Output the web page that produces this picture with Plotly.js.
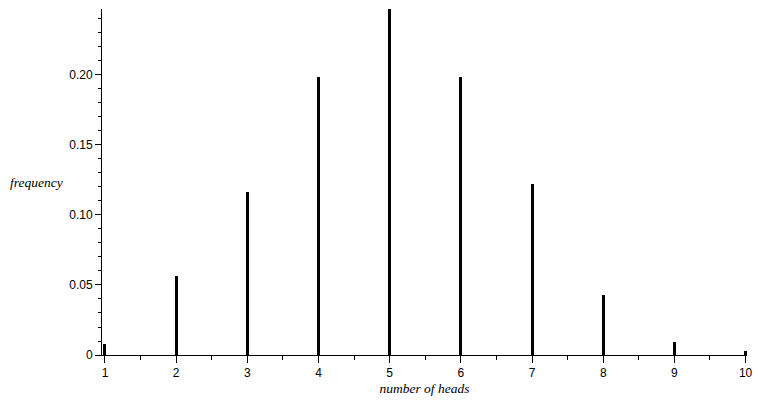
<!DOCTYPE html>
<html>
<head>
<meta charset="utf-8">
<script src="https://cdn.plot.ly/plotly-3.0.1.min.js"></script>
<style>html,body{margin:0;padding:0;background:#fff;}#chart{width:758px;height:400px;}</style>
</head>
<body>
<div id="chart"></div>
<script>
var heads = [1, 2, 3, 4, 5, 6, 7, 8, 9, 10];
var frequency = [0.008, 0.0566, 0.1164, 0.1986, 0.247, 0.1986, 0.1221, 0.0429, 0.0093, 0.0029];
var yTickVals = [0, 0.05, 0.10, 0.15, 0.20];
var yTickText = ['0', '0.05', '0.10', '0.15', '0.20'];
var xTickVals = [1, 2, 3, 4, 5, 6, 7, 8, 9, 10];
var xTickText = ['1', '2', '3', '4', '5', '6', '7', '8', '9', '10'];

var trace = {
  type: 'bar',
  x: heads,
  y: frequency,
  width: 0.042,
  marker: {color: '#000000', line: {width: 0}},
  hoverinfo: 'x+y'
};

var tickFont = {family: 'Liberation Sans, Arial, sans-serif', size: 12, color: '#000'};
var titleFont = {family: 'Liberation Serif, Times New Roman, serif', size: 13.5, color: '#000', style: 'italic'};

var layout = {
  width: 758, height: 400,
  margin: {l: 102, r: 11, t: 9, b: 45},
  paper_bgcolor: '#fff', plot_bgcolor: '#fff',
  showlegend: false,
  bargap: 0,
  xaxis: {
    range: [0.958, 10.02],
    tickmode: 'array', tickvals: xTickVals, ticktext: xTickText,
    ticks: 'outside', ticklen: 7, tickwidth: 1, tickcolor: '#000',
    minor: {tickmode: 'linear', tick0: 1, dtick: 0.5, ticks: 'outside', ticklen: 4, tickwidth: 1, tickcolor: '#000', showgrid: false},
    showline: true, linecolor: '#000', linewidth: 1,
    showgrid: false, zeroline: false,
    tickfont: tickFont,
    title: {text: 'number of heads', font: titleFont, standoff: 4}
  },
  yaxis: {
    range: [0, 0.2471],
    tickmode: 'array', tickvals: yTickVals, ticktext: yTickText,
    ticks: 'outside', ticklen: 6, tickwidth: 1, tickcolor: '#000',
    minor: {tickmode: 'linear', tick0: 0, dtick: 0.01, ticks: 'outside', ticklen: 3, tickwidth: 1, tickcolor: '#000', showgrid: false},
    showline: true, linecolor: '#000', linewidth: 1,
    showgrid: false, zeroline: false,
    tickfont: tickFont
  },
  annotations: [{
    text: 'frequency', xref: 'paper', yref: 'paper',
    x: -0.146, y: 0.498, xanchor: 'left', yanchor: 'middle',
    showarrow: false, font: titleFont
  }]
};

Plotly.newPlot('chart', [trace], layout, {displayModeBar: false, staticPlot: true});
</script>
</body>
</html>
